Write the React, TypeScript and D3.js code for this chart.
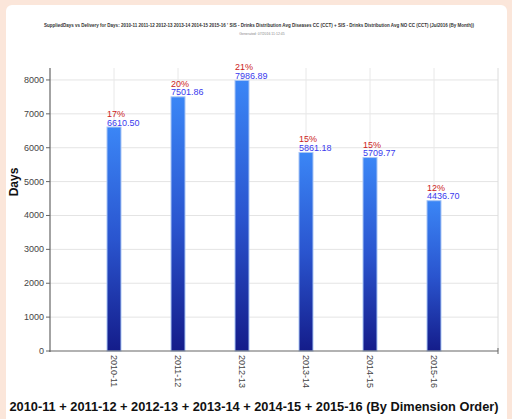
import React, { useEffect, useRef } from "react"
import * as d3 from "d3"

const years = ["2010-11", "2011-12", "2012-13", "2013-14", "2014-15", "2015-16"]
const days = [6610.5, 7501.86, 7986.89, 5861.18, 5709.77, 4436.7]
const shares = ["17%", "20%", "21%", "15%", "15%", "12%"]
const yTicks = [0, 1000, 2000, 3000, 4000, 5000, 6000, 7000, 8000]

const title =
  "SuppliedDays vs Delivery for Days: 2010-11 2011-12 2012-13 2013-14 2014-15 2015-16 ' SIS - Drinks Distribution Avg Diseases CC (CCT) + SIS - Drinks Distribution Avg NO CC (CCT) (Jul2016 (By Month))"
const subtitle = "Generated: 07/2016 11:12:45"

const App = () => {
  const svgRef = useRef<SVGSVGElement>(null)

  useEffect(() => {
    document.body.style.margin = "0"
    const svg = d3.select(svgRef.current)
    svg.selectAll("*").remove()

    const W = 512
    const H = 419
    const left = 50
    const right = 498
    const bottom = 351
    const top = 68

    // background
    svg.append("rect").attr("width", W).attr("height", H).attr("fill", "#fbe6da")
    svg
      .append("rect")
      .attr("x", 6)
      .attr("y", 5)
      .attr("width", 501)
      .attr("height", H)
      .attr("rx", 6)
      .attr("fill", "#ffffff")

    const defs = svg.append("defs")
    const grad = defs
      .append("linearGradient")
      .attr("id", "barGrad")
      .attr("x1", 0)
      .attr("y1", 0)
      .attr("x2", 0)
      .attr("y2", 1)
    grad.append("stop").attr("offset", "0%").attr("stop-color", "#3b86f6")
    grad.append("stop").attr("offset", "50%").attr("stop-color", "#2a55cf")
    grad.append("stop").attr("offset", "100%").attr("stop-color", "#141c8a")

    const x = d3.scalePoint().domain(years).range([left, right]).padding(1)
    const y = d3.scaleLinear().domain([0, 8000]).range([bottom, bottom - 8000 * 0.03388])

    // grid
    svg
      .append("g")
      .selectAll("line")
      .data(yTicks.slice(1))
      .enter()
      .append("line")
      .attr("x1", left)
      .attr("x2", right)
      .attr("y1", (d) => y(d))
      .attr("y2", (d) => y(d))
      .attr("stroke", "#e4e4e4")
      .attr("stroke-width", 1)

    svg
      .append("g")
      .selectAll("line")
      .data(years)
      .enter()
      .append("line")
      .attr("x1", (d) => x(d)!)
      .attr("x2", (d) => x(d)!)
      .attr("y1", top)
      .attr("y2", bottom)
      .attr("stroke", "#e8e8e8")

    svg
      .append("line")
      .attr("x1", right)
      .attr("x2", right)
      .attr("y1", top)
      .attr("y2", bottom)
      .attr("stroke", "#dcdcdc")

    // bars
    const bw = 14
    svg
      .append("g")
      .selectAll("rect")
      .data(days)
      .enter()
      .append("rect")
      .attr("x", (d, i) => x(years[i])! - bw / 2)
      .attr("y", (d) => y(d))
      .attr("width", bw)
      .attr("height", (d) => y(0) - y(d))
      .attr("fill", "url(#barGrad)")
      .attr("stroke", "#a9c6f5")
      .attr("stroke-width", 1)

    // value labels
    svg
      .append("g")
      .selectAll("text")
      .data(days)
      .enter()
      .append("text")
      .attr("x", (d, i) => x(years[i])! - bw / 2)
      .attr("y", (d) => y(d) - 1.5)
      .attr("font-family", "Liberation Sans, Arial, sans-serif")
      .attr("font-size", 9)
      .attr("fill", "#3a3aee")
      .text((d) => d.toFixed(2))

    svg
      .append("g")
      .selectAll("text")
      .data(shares)
      .enter()
      .append("text")
      .attr("x", (d, i) => x(years[i])! - bw / 2)
      .attr("y", (d, i) => y(days[i]) - 10)
      .attr("font-family", "Liberation Sans, Arial, sans-serif")
      .attr("font-size", 9)
      .attr("fill", "#cc2222")
      .text((d) => d)

    // axes
    svg
      .append("line")
      .attr("x1", left)
      .attr("x2", left)
      .attr("y1", top)
      .attr("y2", bottom + 1)
      .attr("stroke", "#666")
      .attr("stroke-width", 1.2)
    svg
      .append("line")
      .attr("x1", left - 1)
      .attr("x2", right)
      .attr("y1", bottom)
      .attr("y2", bottom)
      .attr("stroke", "#666")
      .attr("stroke-width", 1.2)
    svg
      .append("line")
      .attr("x1", right)
      .attr("x2", right)
      .attr("y1", bottom - 3)
      .attr("y2", bottom + 3)
      .attr("stroke", "#666")

    const yt = svg.append("g")
    yt.selectAll("line")
      .data(yTicks)
      .enter()
      .append("line")
      .attr("x1", left - 4)
      .attr("x2", left)
      .attr("y1", (d) => y(d))
      .attr("y2", (d) => y(d))
      .attr("stroke", "#666")
    yt.selectAll("text")
      .data(yTicks)
      .enter()
      .append("text")
      .attr("x", left - 6)
      .attr("y", (d) => y(d) + 3)
      .attr("text-anchor", "end")
      .attr("font-family", "Liberation Sans, Arial, sans-serif")
      .attr("font-size", 9)
      .attr("fill", "#444")
      .text((d) => d)

    // x tick labels rotated
    svg
      .append("g")
      .selectAll("text")
      .data(years)
      .enter()
      .append("text")
      .attr("transform", (d) => `translate(${x(d)! - 3},355) rotate(90)`)
      .attr("font-family", "Liberation Sans, Arial, sans-serif")
      .attr("font-size", 9)
      .attr("fill", "#444")
      .text((d) => d)

    // titles
    svg
      .append("text")
      .attr("x", 259)
      .attr("y", 27)
      .attr("text-anchor", "middle")
      .attr("font-family", "Liberation Sans, Arial, sans-serif")
      .attr("font-size", 4.6)
      .attr("font-weight", "bold")
      .attr("fill", "#333")
      .attr("textLength", 430)
      .attr("lengthAdjust", "spacingAndGlyphs")
      .text(title)
    svg
      .append("text")
      .attr("x", 262)
      .attr("y", 35)
      .attr("text-anchor", "middle")
      .attr("font-family", "Liberation Sans, Arial, sans-serif")
      .attr("font-size", 3.5)
      .attr("fill", "#888")
      .text(subtitle)

    svg
      .append("text")
      .attr("transform", "translate(18,182) rotate(-90)")
      .attr("text-anchor", "middle")
      .attr("font-family", "Liberation Sans, Arial, sans-serif")
      .attr("font-size", 12)
      .attr("font-weight", "bold")
      .attr("fill", "#111")
      .text("Days")

    svg
      .append("text")
      .attr("x", 254)
      .attr("y", 411)
      .attr("text-anchor", "middle")
      .attr("font-family", "Liberation Sans, Arial, sans-serif")
      .attr("font-size", 12.8)
      .attr("font-weight", "bold")
      .attr("fill", "#111")
      .text(years.join(" + ") + " (By Dimension Order)")
  }, [])

  return <svg ref={svgRef} width={512} height={419} style={{ display: "block" }}></svg>
}

export default App
